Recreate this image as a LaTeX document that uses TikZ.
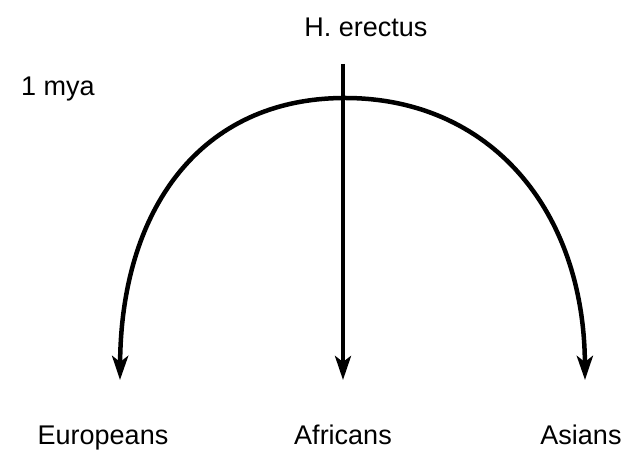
\documentclass[tikz,border=0pt]{standalone}
\usepackage{fontspec}
\setmainfont{Liberation Sans}
\usetikzlibrary{arrows.meta}
\begin{document}
\begin{tikzpicture}[x=1pt,y=1pt,
  lbl/.style={font=\fontsize{27}{30}\selectfont, inner sep=0pt},
  tip/.style={-{Stealth[length=24pt,width=16pt,inset=6pt]}},
  ]
\useasboundingbox (0,0) rectangle (635,460);
\node[lbl] (he) at (366,433) {H. erectus};
\node[lbl] (mya) at (58,371) {1 mya};
\node[lbl,anchor=base] (eu) at (103,15) {Europeans};
\node[lbl,anchor=base] (af) at (343,15) {Africans};
\node[lbl,anchor=base] (as) at (581,15) {Asians};
\coordinate (vtop) at (343,396);
\coordinate (vbot) at (343,80);
\coordinate (ltip) at (120,80);
\coordinate (rtip) at (585,80);
\coordinate (top) at (345,362);
\draw[line width=4pt, tip] (vtop) -- (vbot);
\draw[line width=4.5pt, tip] (top) .. controls (200,362) and (121,250) .. (ltip);
\draw[line width=4.5pt, tip] (top) .. controls (490,362) and (584,250) .. (rtip);
\end{tikzpicture}
\end{document}
